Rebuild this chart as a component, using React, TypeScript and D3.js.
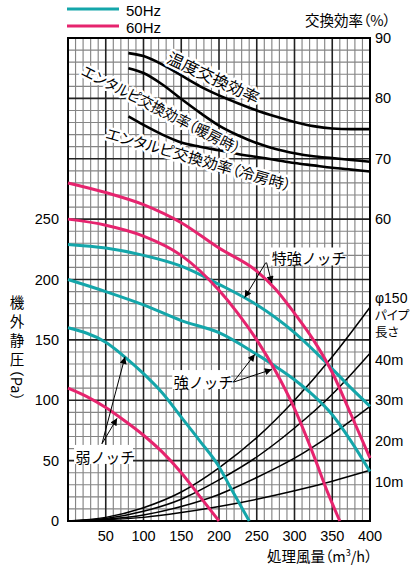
import React from "react";
import * as d3 from "d3";

// ---- data (flow m3/h, static pressure Pa) ----
const hz60Max: [number, number][] = [[0,280],[50,272],[100,262],[150,247],[200,226],[250,207],[275,192],[300,172],[325,150],[350,123],[375,88],[400,52]];
const hz60High: [number, number][] = [[0,250],[50,245],[100,236],[150,220],[200,191],[225,172],[250,150],[275,124],[300,93],[325,55],[345,22],[360,0]];
const hz60Low: [number, number][] = [[0,110],[25,103],[50,94],[75,83],[100,71],[125,57],[150,40],[175,20],[200,0]];
const hz50Max: [number, number][] = [[0,229],[50,226],[100,220],[150,211],[200,196],[250,179],[300,156],[350,126],[375,110],[400,95]];
const hz50High: [number, number][] = [[0,200],[50,190],[100,179],[150,166],[200,156],[250,138],[275,128],[300,117],[325,104],[350,88],[375,66],[400,41]];
const hz50Low: [number, number][] = [[0,160],[50,148],[75,136],[100,122],[125,106],[150,86],[175,66],[200,45],[215,28],[240,0]];

// efficiency (%)
const effTemp: [number, number][] = [[80,87.5],[100,87],[125,85.6],[150,83.8],[175,82],[200,80.5],[225,79.2],[250,78],[275,77],[300,76.1],[325,75.4],[350,75],[375,74.9],[400,74.9]];
const effHeat: [number, number][] = [[80,85],[100,84.2],[125,82.3],[150,79.9],[175,77.6],[200,75.5],[225,73.9],[250,72.6],[275,71.6],[300,70.9],[325,70.4],[350,70.1],[375,69.8],[400,69.5]];
const effCool: [number, number][] = [[80,77],[100,75.6],[125,74],[150,72.7],[175,72],[200,71.4],[225,70.8],[250,70.3],[275,69.8],[300,69.3],[325,68.9],[350,68.5],[375,68.2],[400,67.9]];

// pipe resistance (Pa)
const pipe10: [number, number][] = [[0,0],[50,1],[100,3],[150,7],[200,12],[250,18],[300,25],[350,33],[400,42]];
const pipe20: [number, number][] = [[0,0],[50,1.5],[100,5],[150,12],[200,22],[250,36],[300,52],[350,72],[400,95]];
const pipe30: [number, number][] = [[0,0],[50,2],[100,8],[150,18],[200,34],[250,53],[300,77],[350,105],[400,139]];
const pipe40: [number, number][] = [[0,0],[50,3],[100,11],[150,24],[200,44],[250,69],[300,100],[350,136],[400,177]];

const xTicks = [50, 100, 150, 200, 250, 300, 350, 400];
const yTicks = [0, 50, 100, 150, 200, 250];
const effTicks = [60, 70, 80, 90];
const pipeLabels = ["40m", "30m", "20m", "10m"];
const pipeLabelPa = [133, 100, 66, 32];
const pipeTitle = ["パイプ", "長さ"];

const TEAL = "#14a6aa";
const MAGENTA = "#e6246e";
const FONT = "'Liberation Sans', Arial, 'Noto Sans CJK JP', sans-serif";
const JFONT = "'Noto Sans CJK JP', sans-serif";

export default function App() {
  const x = d3.scaleLinear().domain([0, 400]).range([68, 370]);
  const y = d3.scaleLinear().domain([0, 400]).range([521, 38]);
  const yEff = d3.scaleLinear().domain([60, 90]).range([y(250), y(400)]);

  const line = d3.line<[number, number]>().x(d => x(d[0])).y(d => y(d[1])).curve(d3.curveMonotoneX);
  const effLine = d3.line<[number, number]>().x(d => x(d[0])).y(d => yEff(d[1])).curve(d3.curveMonotoneX);

  const minor: number[] = d3.range(0, 401, 10).filter(v => v % 50 !== 0);
  const major: number[] = d3.range(0, 401, 50);

  const arrow = (from: [number, number], to: [number, number], key: string) => (
    <line key={key} x1={x(from[0])} y1={y(from[1])} x2={x(to[0])} y2={y(to[1])}
      stroke="#000" strokeWidth={1} markerEnd="url(#ah)" />
  );

  const halo = { paintOrder: "stroke" as const, stroke: "#fff", strokeWidth: 5, strokeLinejoin: "round" as const, fontFeatureSettings: '"palt"' };

  const tempPos = [x(189), yEff(82.5)];
  const heatPos = [x(120), yEff(77.3)];
  const coolPos = [x(171), yEff(69.0)];

  return (
    <svg width={414} height={568} style={{ position: "absolute", left: 0, top: 0, background: "#fff" }} fontFamily={FONT}>
      <defs>
        <marker id="ah" viewBox="0 0 10 10" refX="10" refY="5" markerWidth="9" markerHeight="7" orient="auto" markerUnits="userSpaceOnUse">
          <path d="M0,0 L10,5 L0,10 z" fill="#000" />
        </marker>
      </defs>
      <rect x={x(0)} y={y(400)} width={x(400) - x(0)} height={y(0) - y(400)} fill="#fff" />
      {/* grid */}
      {minor.map(v => (
        <line key={"vx" + v} x1={x(v)} x2={x(v)} y1={y(0)} y2={y(400)} stroke="#858585" strokeWidth={1.15} />
      ))}
      {minor.map(v => (
        <line key={"hy" + v} y1={y(v)} y2={y(v)} x1={x(0)} x2={x(400)} stroke="#858585" strokeWidth={1.15} />
      ))}
      {major.map(v => (
        <line key={"Vx" + v} x1={x(v)} x2={x(v)} y1={y(0)} y2={y(400)} stroke="#222" strokeWidth={1.6} />
      ))}
      {major.map(v => (
        <line key={"Hy" + v} y1={y(v)} y2={y(v)} x1={x(0)} x2={x(400)} stroke="#222" strokeWidth={1.6} />
      ))}
      <rect x={x(0)} y={y(400)} width={x(400) - x(0)} height={y(0) - y(400)} fill="none" stroke="#000" strokeWidth={2} />

      {/* pipe curves */}
      {[pipe10, pipe20, pipe30, pipe40].map((d, i) => (
        <path key={"p" + i} d={line(d) || ""} fill="none" stroke="#000" strokeWidth={1.5} />
      ))}

      {/* efficiency curves */}
      {[effTemp, effHeat, effCool].map((d, i) => (
        <path key={"e" + i} d={effLine(d) || ""} fill="none" stroke="#000" strokeWidth={2.6} />
      ))}

      {/* fan curves */}
      {[hz50Max, hz50High, hz50Low].map((d, i) => (
        <path key={"t" + i} d={line(d) || ""} fill="none" stroke={TEAL} strokeWidth={3} />
      ))}
      {[hz60Max, hz60High, hz60Low].map((d, i) => (
        <path key={"m" + i} d={line(d) || ""} fill="none" stroke={MAGENTA} strokeWidth={3} />
      ))}

      {/* efficiency labels */}
      <text fontFamily={JFONT} fontSize={16} textAnchor="middle" textLength={100} lengthAdjust="spacingAndGlyphs" transform={`translate(${tempPos[0]},${tempPos[1]}) rotate(25)`} style={halo}>温度交換効率</text>
      <text fontFamily={JFONT} fontSize={15} textAnchor="middle" textLength={176} lengthAdjust="spacingAndGlyphs" transform={`translate(${heatPos[0]},${heatPos[1]}) rotate(27)`} style={halo}>エンタルピ交換効率（暖房時）</text>
      <text fontFamily={JFONT} fontSize={15} textAnchor="middle" textLength={192} lengthAdjust="spacingAndGlyphs" transform={`translate(${coolPos[0]},${coolPos[1]}) rotate(16)`} style={halo}>エンタルピ交換効率（冷房時）</text>

      {/* notch labels + arrows */}
      {arrow([262, 214], [234, 185], "a1")}
      {arrow([263, 214], [270, 197], "a2")}
      <rect x={x(267)} y={y(226.5)} width={73} height={18} fill="#fff" />
      <text x={x(270)} y={y(212.5)} fontFamily={JFONT} fontSize={15}>特強ノッチ</text>

      {arrow([219, 115], [247.5, 138], "a3")}
      {arrow([219, 115], [270, 125.5], "a4")}
      <rect x={x(138)} y={y(125)} width={59} height={19} fill="#fff" />
      <text x={x(140)} y={y(110)} fontFamily={JFONT} fontSize={15}>強ノッチ</text>

      {arrow([45, 64], [75.5, 136], "a5")}
      {arrow([45, 64], [65, 85], "a6")}
      <rect x={x(8)} y={y(63)} width={59} height={19} fill="#fff" />
      <text x={x(10)} y={y(48)} fontFamily={JFONT} fontSize={15}>弱ノッチ</text>

      {/* left ticks */}
      {yTicks.map(v => (
        <text key={"yl" + v} x={59} y={y(v) + 5} textAnchor="end" fontSize={14.5}>{v}</text>
      ))}
      {/* right ticks */}
      {effTicks.map(v => (
        <text key={"el" + v} x={375} y={yEff(v) + 5} fontSize={14.5}>{v}</text>
      ))}
      {/* bottom ticks */}
      {xTicks.map(v => (
        <text key={"xl" + v} x={x(v)} y={541} textAnchor="middle" fontSize={14.5}>{v}</text>
      ))}

      {/* pipe labels */}
      <text x={375} y={303} fontSize={14}>φ150</text>
      {pipeTitle.map((t, i) => (
        <text key={t} x={375} y={320 + i * 17} fontFamily={JFONT} fontSize={12.5} style={{ fontFeatureSettings: '"palt"' }}>{t}</text>
      ))}
      {pipeLabels.map((t, i) => (
        <text key={t} x={375} y={y(pipeLabelPa[i]) + 5} fontSize={14.5}>{t}</text>
      ))}

      {/* axis titles */}
      <text x={305} y={26} fontFamily={JFONT} fontSize={14.5} style={{ fontFeatureSettings: '"palt"' }}>交換効率（%）</text>
      <text x={267} y={562} fontFamily={JFONT} fontSize={14.5} style={{ fontFeatureSettings: '"palt"' }}>処理風量（m<tspan fontSize={9} dy={-6}>3</tspan><tspan dy={6}>/h）</tspan></text>
      {["機", "外", "静", "圧"].map((c, i) => (
        <text key={c} x={17} y={308 + i * 19} textAnchor="middle" fontFamily={JFONT} fontSize={14.5}>{c}</text>
      ))}
      <text transform="translate(17,385) rotate(90)" textAnchor="middle" dominantBaseline="central" fontFamily={JFONT} fontSize={14.5}>（Pa）</text>

      {/* legend */}
      <line x1={67} x2={119} y1={9} y2={9} stroke={TEAL} strokeWidth={3} />
      <line x1={67} x2={119} y1={26} y2={26} stroke={MAGENTA} strokeWidth={3} />
      <text x={126} y={15.5} fontSize={15}>50Hz</text>
      <text x={126} y={32.5} fontSize={15}>60Hz</text>
    </svg>
  );
}
